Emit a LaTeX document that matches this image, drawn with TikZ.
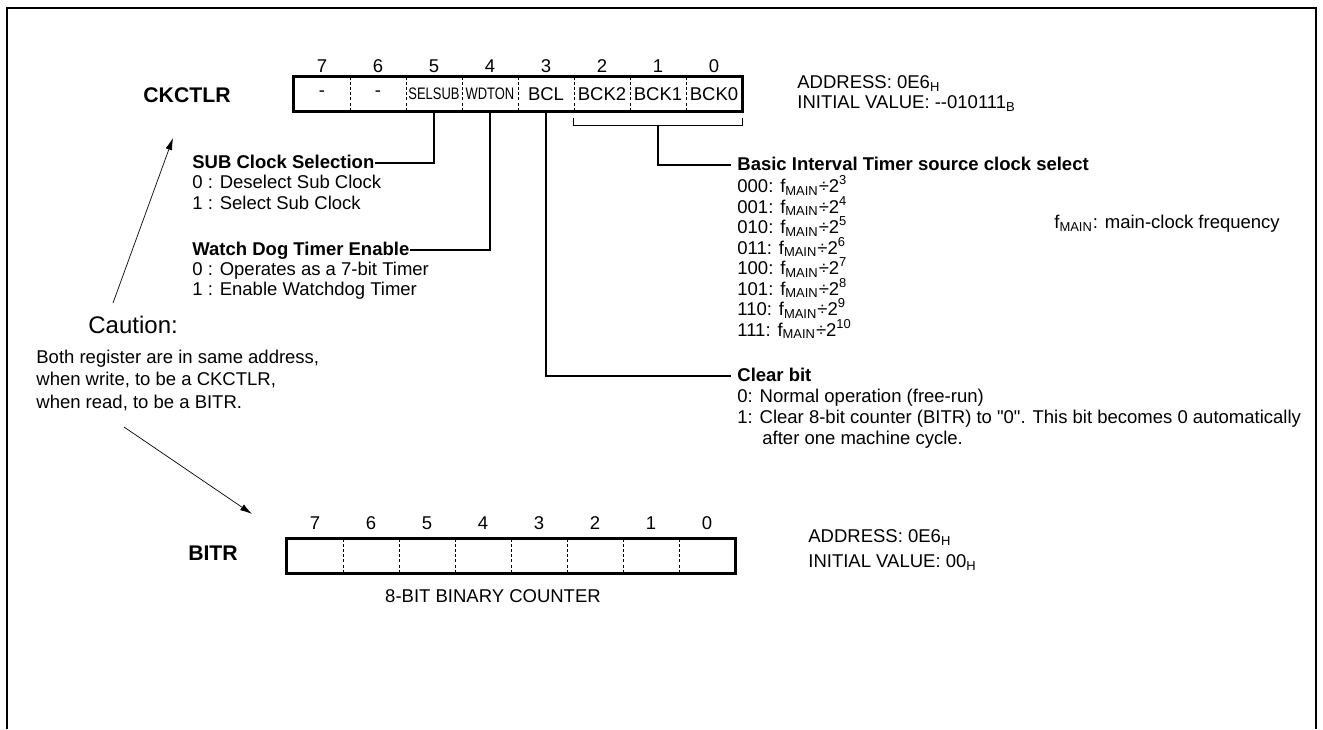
\documentclass[tikz,border=0pt]{standalone}
\usepackage{fontspec}
\usepackage{graphicx}
\setmainfont{Liberation Sans}
\usetikzlibrary{arrows.meta}
\newcommand{\fmain}{f\textsubscript{MAIN}}
\begin{document}
\begin{tikzpicture}[
    x=0.5pt,y=-0.5pt,
    >={Latex[length=6pt,width=3.4pt]},
    frame/.style={line width=0.8pt, draw=black},
    regbox/.style={line width=1.6pt, draw=black},
    divline/.style={line width=0.8pt, dash pattern=on 1.5pt off 1.1pt},
    conn/.style={line width=0.6pt, draw=black},
    arrow/.style={->, line width=0.35pt, draw=black},
    cell/.style={
        minimum width=28pt,
        minimum height=17pt,
        inner sep=0pt,
        font=\fontsize{9.25}{10}\selectfont
    },
    txt/.style={
        anchor=west,
        inner sep=0pt,
        text height=6.5pt,
        text depth=1pt,
        font=\fontsize{9.25}{10}\selectfont
    },
    hd/.style={txt, font=\fontsize{9.25}{10}\selectfont\bfseries},
    reglbl/.style={inner sep=0pt, font=\fontsize{10.6}{12}\selectfont\bfseries},
    bitno/.style={inner sep=0pt, font=\fontsize{9.25}{10}\selectfont}
]
    \useasboundingbox (0,0) rectangle (1323,729);
    \draw[frame] (7,729) -- (7,8) -- (1316,8) -- (1316,729);

    % CKCTLR
    \node[reglbl] (cklbl) at (187,95) {CKCTLR};
    \foreach \i/\t in {7/-,6/-,5/{\scalebox{0.7}[0.9]{SELSUB}},4/{\scalebox{0.7}[0.9]{WDTON}},3/BCL,2/BCK2,1/BCK1,0/BCK0}
        \node[cell] (c\i) at ({322+56*(7-\i)},94) {\t};
    \foreach \i in {7,...,0}
        \node[bitno] (n\i) at ({322+56*(7-\i)},66) {\i};
    \draw[regbox] (c7.north west) rectangle (c0.south east);
    \foreach \i in {7,...,1}
        \draw[divline] (c\i.north east) -- (c\i.south east);

    \node[txt] (ckadr) at (797,83) {ADDRESS: 0E6\textsubscript{H}};
    \node[txt] (ckinit) at (797,103) {INITIAL VALUE: -\kern0pt-010111\textsubscript{B}};

    \node[hd] (subhd) at (192,163) {SUB Clock Selection};
    \node[txt] (sub0) at (192,183) {0 : Deselect Sub Clock};
    \node[txt] (sub1) at (192,204) {1 : Select Sub Clock};

    \node[hd] (wdhd) at (192,250) {Watch Dog Timer Enable};
    \node[txt] (wd0) at (192,270) {0 : Operates as a 7-bit Timer};
    \node[txt] (wd1) at (192,290) {1 : Enable Watchdog Timer};

    \node[hd] (bithd) at (737,165) {Basic Interval Timer source clock select};
    \foreach \c/\e [count=\k from 0] in {000/3,001/4,010/5,011/6,100/7,101/8,110/9,111/10}
        \node[txt] (sel\k) at (737,{187+20.5*\k}) {\c: \fmain÷2\textsuperscript{\e}};

    \node[txt] (fnote) at (1054,223) {\fmain: main-clock frequency};

    \node[hd] (clrhd) at (737,376) {Clear bit};
    \node[txt] (clr0) at (737,397) {0: Normal operation (free-run)};
    \node[txt] (clr1) at (737,418) {1: Clear 8-bit counter (BITR) to \textquotedbl 0\textquotedbl. This bit becomes 0 automatically};
    \node[txt] (clr2) at (762,439) {after one machine cycle.};

    \draw[conn] (c5.south) |- (subhd.east);
    \draw[conn] (c4.south) |- (wdhd.east);
    \draw[conn] (c3.south) |- ([xshift=-3pt]clrhd.west);
    % bracket BCK2..BCK0
    \draw[conn] ([yshift=-3.5pt]c2.south west) -- ([yshift=-7pt]c2.south west)
        -- ([yshift=-7pt]c0.south east) -- ([yshift=-3.5pt]c0.south east);
    \coordinate (brk) at ([yshift=-7pt]c1.south);
    \draw[conn] (brk) |- ([xshift=-3pt]bithd.west);

    % Caution
    \node[inner sep=0pt, anchor=west, font=\fontsize{12}{14}\selectfont] (caut) at (88,325) {Caution:};
    \node[txt] (note0) at (36,358) {Both register are in same address,};
    \node[txt] (note1) at (36,380) {when write, to be a CKCTLR,};
    \node[txt] (note2) at (36,403) {when read, to be a BITR.};
    \coordinate (upfrom) at (113,303);
    \coordinate (upto) at (173,138);
    \draw[arrow] (upfrom) -- (upto);
    \coordinate (dnfrom) at (124,427);
    \coordinate (dnto) at (252,514);
    \draw[arrow] (dnfrom) -- (dnto);

    % BITR
    \node[reglbl] (bitlbl) at (213,553) {BITR};
    \foreach \i in {7,...,0}
        \node[cell] (b\i) at ({315+56*(7-\i)},556) {};
    \foreach \i in {7,...,0}
        \node[bitno] (m\i) at ({315+56*(7-\i)},523) {\i};
    \draw[regbox] (b7.north west) rectangle (b0.south east);
    \foreach \i in {7,...,1}
        \draw[divline] (b\i.north east) -- (b\i.south east);

    \node[bitno] (cnt) at (493,596) {8-BIT BINARY COUNTER};
    \node[txt] (bitadr) at (808,537) {ADDRESS: 0E6\textsubscript{H}};
    \node[txt] (bitinit) at (808,562) {INITIAL VALUE: 00\textsubscript{H}};
\end{tikzpicture}
\end{document}
